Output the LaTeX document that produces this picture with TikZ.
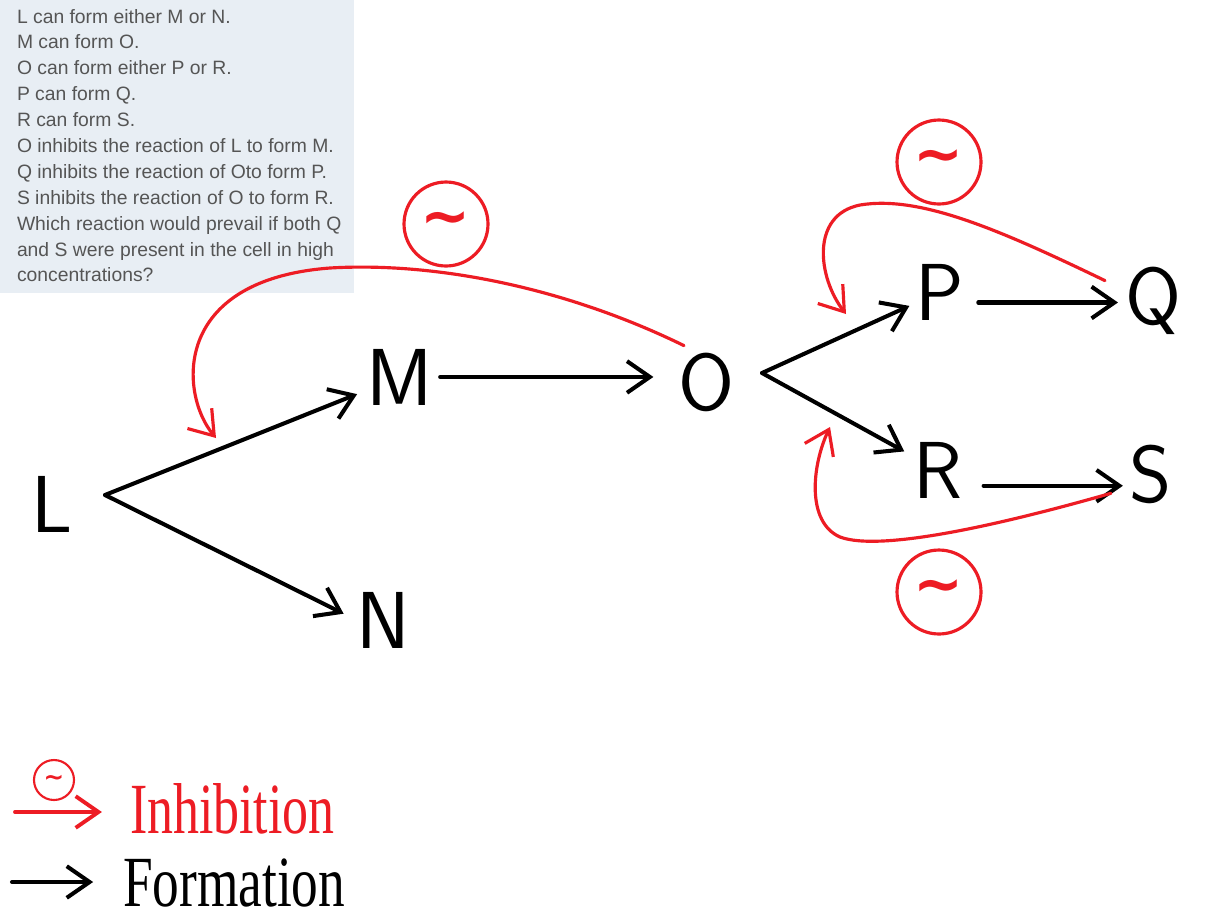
\documentclass[tikz,border=0pt]{standalone}
\usepackage{fontspec}
\setmainfont{Liberation Serif}
\newfontfamily\qfont{Liberation Sans}
\newfontfamily\symfont{DejaVu Sans}
\usetikzlibrary{arrows.meta, positioning}
\definecolor{inhred}{HTML}{ED1C24}
\definecolor{boxbg}{HTML}{E8EEF4}
\definecolor{boxtext}{HTML}{555555}

\begin{document}
\begin{tikzpicture}[x=0.02cm, y=-0.02cm,
    every node/.style={inner sep=0pt, outer sep=0pt},
    species/.style={anchor=base, font=\sffamily\fontsize{46}{46}\selectfont},
    form/.style={-{Straight Barb[length=13pt, width=18pt]}, line width=2.3pt, line cap=round},
    inhib/.style={form, draw=inhred, line width=1.8pt},
    minus/.style={circle, draw=inhred, line width=1.8pt, minimum size=1.68cm, text=inhred, font=\symfont\bfseries\fontsize{34}{34}\selectfont},
    legendtxt/.style={anchor=base west, font=\fontsize{41}{41}\selectfont}
]
\useasboundingbox[fill=white] (0,0) rectangle (1216,920);

% --- question box ---
\fill[boxbg] (0,0) rectangle (354,293);
\node[anchor=north west, align=left, text=boxtext, font=\qfont\fontsize{11}{14.74}\selectfont] (question) at (17,9)
  {L can form either M or N.\\
   M can form O.\\
   O can form either P or R.\\
   P can form Q.\\
   R can form S.\\
   O inhibits the reaction of L to form M.\\
   Q inhibits the reaction of Oto form P.\\
   S inhibits the reaction of O to form R.\\
   Which reaction would prevail if both Q\\
   and S were present in the cell in high\\
   concentrations?};

% --- species ---
\node[species] (L) at (52,532) {L};
\node[species] (M) at (400,405) {M};
\node[species] (N) at (383,648) {N};
\node[species] (O) at (706,410) {O};
\node[species] (P) at (940,320) {P};
\node[species] (Q) at (1153,324) {Q};
\node[species] (R) at (938,498) {R};
\node[species] (S) at (1151,502) {S};

\coordinate (Lfork) at (105,495);
\coordinate (Ofork) at (762,373);

% --- formation ---
\draw[form, shorten >=6pt] (Lfork) -- (M);
\draw[form, shorten >=8pt] (Lfork) -- (N.west);
\draw[form, shorten >=18pt] ([xshift=4pt]M.east) -- ([xshift=4pt]M.east -| O.west);
\draw[form, shorten >=4pt] (Ofork) -- (P);
\draw[form, shorten >=6pt] (Ofork) -- (R);
\draw[form, shorten >=12pt] ([xshift=8pt, yshift=-6pt]P.east) -- ([xshift=8pt, yshift=-6pt]P.east -| Q.west);
\draw[form, shorten >=16pt] ([xshift=12pt, yshift=-9pt]R.east) -- ([xshift=12pt, yshift=-9pt]R.east -| S.west);

% --- inhibition ---
\coordinate (aLM) at (216,438);
\coordinate (aOP) at (846,314);
\coordinate (aOR) at (830,427);
\draw[inhib] ([shift={(6,-7)}]O.north west) .. controls (560,285) and (430,262) .. (330,268)
  .. controls (170,280) and (180,395) .. (aLM);
\draw[inhib] ([shift={(-20,14)}]Q.north west) .. controls (1000,230) and (920,195) .. (860,205)
  .. controls (810,215) and (818,278) .. (aOP);
\draw[inhib] ([shift={(-19,-10)}]S.south west) .. controls (1000,525) and (880,552) .. (840,537)
  .. controls (806,522) and (812,465) .. (aOR);

\node[minus] (mLM) at (446,224) {∼};
\node[minus] (mOP) at (939,162) {∼};
\node[minus] (mOR) at (939,592) {∼};

% --- legend ---
\node[minus, minimum size=0.8cm, line width=1.2pt, font=\symfont\bfseries\fontsize{14}{14}\selectfont] (legMinus) at (54,780) {∼};
\node[legendtxt, text=inhred] (legInh) at (130,833) {\scalebox{0.72}[1]{Inhibition}};
\node[legendtxt] (legForm) at (123,906) {\scalebox{0.74}[1]{Formation}};
\coordinate (inhStart) at (15,812);
\coordinate (formStart) at (12,882);
\draw[inhib, line width=2.2pt, shorten >=16pt] (inhStart) -- (inhStart -| legInh.west);
\draw[form, shorten >=17pt] (formStart) -- (formStart -| legForm.west);
\end{tikzpicture}
\end{document}
